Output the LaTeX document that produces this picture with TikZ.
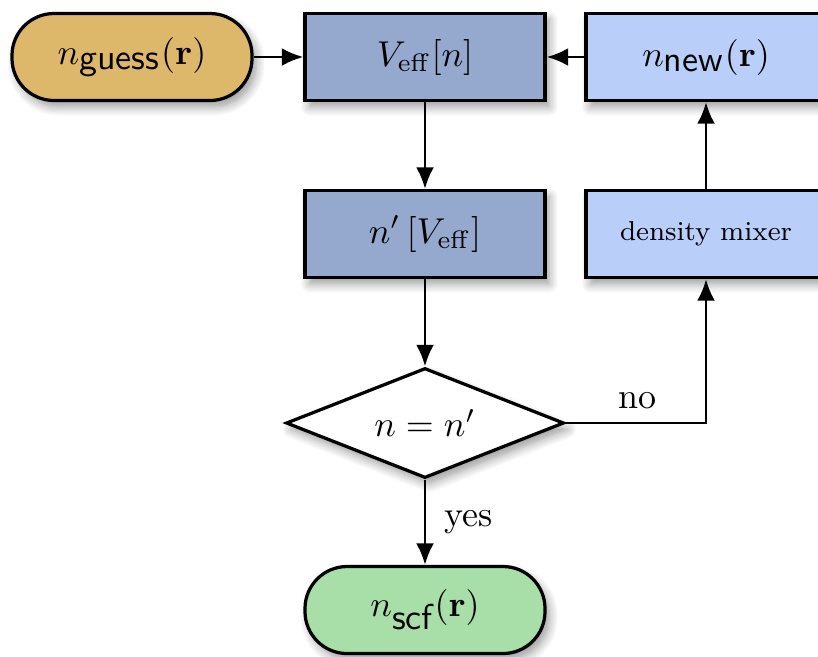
\documentclass[tikz,border=0pt]{standalone}
\usetikzlibrary{shapes.geometric,arrows.meta,shadows.blur}
\newcommand{\pxu}{0.278pt}
\definecolor{guesscol}{HTML}{DDB86B}
\definecolor{darkblue}{HTML}{95A9CF}
\definecolor{lightblue}{HTML}{B9CFFA}
\definecolor{scfcol}{HTML}{A8DEA8}
\tikzset{
  shad/.style={blur shadow={shadow xshift=1.2pt, shadow yshift=-1.8pt, shadow blur radius=2.5pt, shadow blur steps=8, shadow opacity=40}},
  boxnode/.style={draw=black, line width=0.9pt, minimum width=240*\pxu, minimum height=87*\pxu, inner sep=0pt, shad},
  stadium/.style={boxnode, rounded corners=42*\pxu},
  decision/.style={draw=black, line width=0.9pt, fill=white, shape=diamond, aspect=2.53, minimum width=278*\pxu, minimum height=110*\pxu, inner sep=0pt, shad},
  conn/.style={line width=0.8pt, -{Latex[length=6pt,width=5pt]}},
  lbl/.style={inner sep=0pt}
}
\begin{document}
\begin{tikzpicture}[x=\pxu, y=-\pxu]
\useasboundingbox (0,0) rectangle (818,656);
\node[stadium, fill=guesscol] (guess) at (132,57) {$n_{\textsf{guess}}(\mathbf{r})$};
\node[boxnode, fill=darkblue] (veff) at (425,57) {$V_{\mathrm{eff}}[n]$};
\node[boxnode, fill=lightblue] (nnew) at (706,57) {$n_{\textsf{new}}(\mathbf{r})$};
\node[boxnode, fill=darkblue] (nprime) at (425,234) {$n'\left[V_{\mathrm{eff}}\right]$};
\node[boxnode, fill=lightblue, font=\fontsize{7.6}{9}\selectfont] (mixer) at (706,234) {density mixer};
\node[decision] (dec) at (425,423) {$n = n'$};
\node[stadium, fill=scfcol] (scf) at (425,610) {$n_{\textsf{scf}}(\mathbf{r})$};
\draw[conn] (guess) -- (veff);
\draw[conn] (nnew) -- (veff);
\draw[conn] (veff) -- (nprime);
\draw[conn] (nprime) -- (dec);
\draw[conn] (dec) -- (scf) node[lbl, pos=0.5, right=5pt] {yes};
\draw[conn] (dec.east) -| (mixer.south) node[lbl, pos=0.255, above=3.5pt] {no};
\draw[conn] (mixer) -- (nnew);
\end{tikzpicture}
\end{document}
